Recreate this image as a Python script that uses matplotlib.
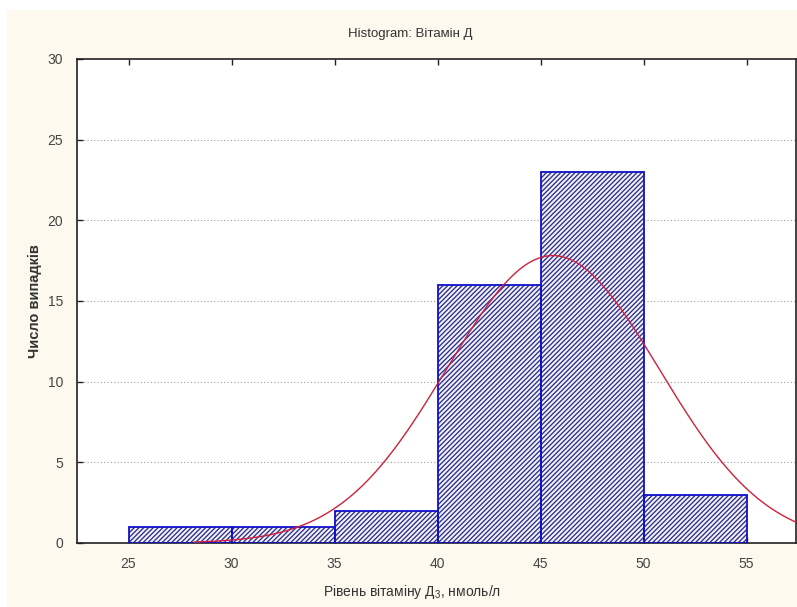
import numpy as np
import matplotlib
matplotlib.use("Agg")
import matplotlib.pyplot as plt
from matplotlib.patches import Rectangle

plt.rcParams['font.family'] = ['Liberation Sans', 'DejaVu Sans']
plt.rcParams['mathtext.fontset'] = 'custom'
plt.rcParams['mathtext.rm'] = 'Liberation Sans'
plt.rcParams['mathtext.it'] = 'Liberation Sans'
plt.rcParams['hatch.linewidth'] = 1.0

# Data
bin_edges = [25, 30, 35, 40, 45, 50, 55]
counts = [1, 1, 2, 16, 23, 3]
fit_mean = 45.6
fit_sd = 5.15
n_total = sum(counts)
x_ticks = [25, 30, 35, 40, 45, 50, 55]
y_ticks = [0, 5, 10, 15, 20, 25, 30]

title = "Histogram: Вітамін Д"
xlabel = "Рівень вітаміну Д$_3$, нмоль/л"
ylabel = "Число випадків"

fig = plt.figure(figsize=(7.97, 6.07), dpi=100)
fig.patch.set_facecolor('white')
fig.patches.append(Rectangle((7 / 797, 0), 1, 1 - 10 / 607, transform=fig.transFigure,
                             facecolor='#fdf9ee', edgecolor='none', zorder=-10))

ax = fig.add_axes([77 / 797, 1 - 543 / 607, (796 - 77) / 797, (543 - 59) / 607])
ax.set_facecolor('white')

lefts = np.array(bin_edges[:-1])
widths = np.diff(bin_edges)
ax.bar(lefts, counts, width=widths, align='edge', facecolor='#f4f4ff',
       edgecolor='#34348a', hatch='///////', linewidth=0, zorder=2)
ax.bar(lefts, counts, width=widths, align='edge', fill=False,
       edgecolor='#1010c8', linewidth=1.3, zorder=3)

binw = widths[0]
xs = np.linspace(28.2, 57.6, 400)
ys = n_total * binw / (fit_sd * np.sqrt(2 * np.pi)) * np.exp(-0.5 * ((xs - fit_mean) / fit_sd) ** 2)
ax.plot(xs, ys, color='#d0203c', linewidth=1.0, zorder=4)

ax.set_xlim(22.5, 57.4)
ax.set_ylim(0, 30)
ax.set_xticks(x_ticks)
ax.set_yticks(y_ticks)
for y in y_ticks[1:-1]:
    ax.axhline(y, color='#999999', linestyle=(0, (1, 2)), linewidth=0.8, zorder=1)

ax.tick_params(axis='both', direction='in', length=4, width=1, colors='#222222',
               labelcolor='#444444', labelsize=10, top=True, right=False)
ax.tick_params(axis='y', pad=10)
ax.tick_params(axis='x', pad=10)
for s in ax.spines.values():
    s.set_color('#222222')
    s.set_linewidth(1.2)

ax.set_title(title, fontsize=9.5, color='#333333', pad=16, x=0.464)
ax.set_xlabel(xlabel, fontsize=10, color='#333333', labelpad=9, x=0.466)
ax.set_ylabel(ylabel, fontsize=10.5, color='#333333', fontweight='bold', labelpad=4)

fig.savefig("out.png", dpi=100, facecolor=fig.get_facecolor())
